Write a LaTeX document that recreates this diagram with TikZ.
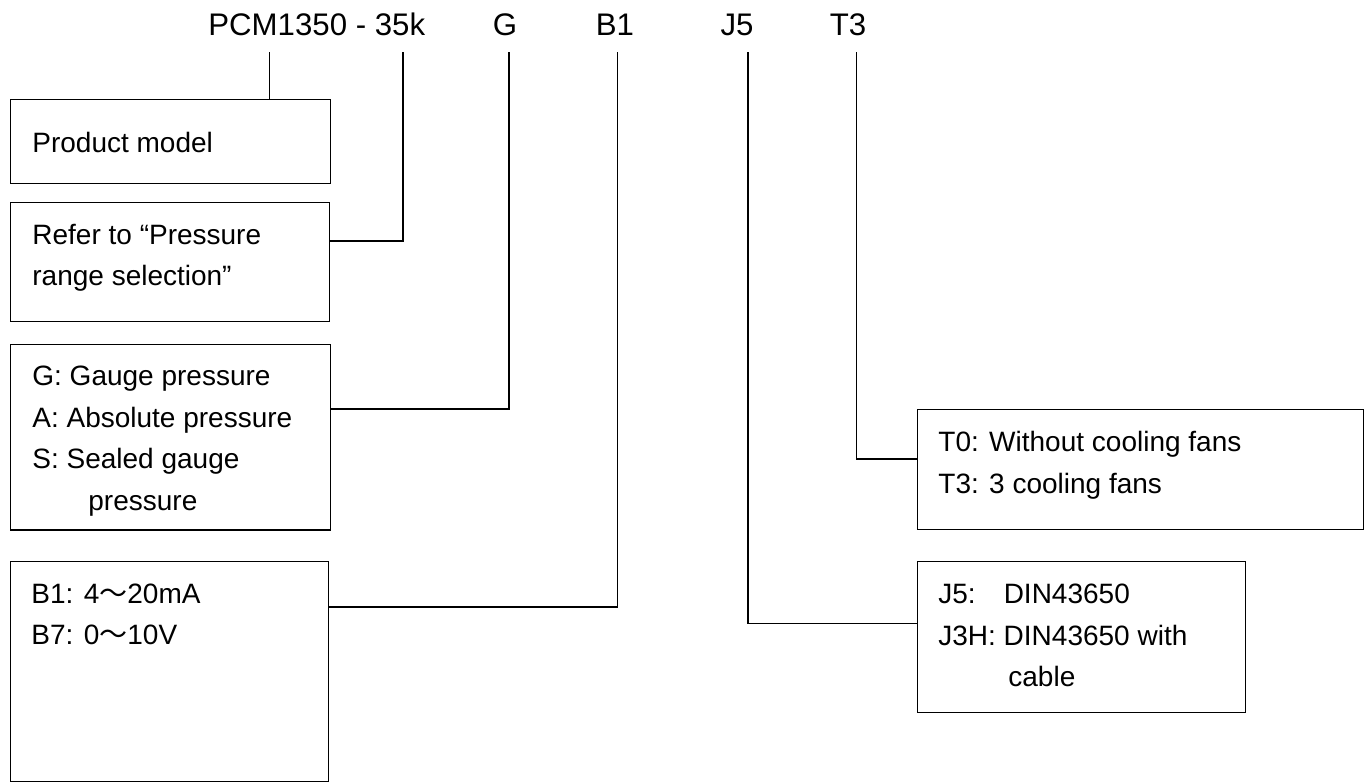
\documentclass[tikz,border=0pt]{standalone}
\usepackage{fontspec}
\setmainfont{Liberation Sans}
\newfontfamily\cjk{Noto Sans CJK SC}
\begin{document}
\begin{tikzpicture}
[boxdecorate/.style={draw,line width=0.65pt,rectangle,inner sep=0pt,anchor=north west},%
  linedecorate/.style={-,line width=0.65pt},%
  textdecorate/.style={anchor=base west,inner sep=0pt,font=\fontsize{14}{17}\selectfont},%
  codedecorate/.style={anchor=base,inner sep=0pt,font=\fontsize{15.6}{18}\selectfont},%
  x=0.5pt,y=-0.5pt]
\useasboundingbox (0,0) rectangle (1370,783);
%% code letters on top
\node (pcm) at (208,35) [codedecorate,anchor=base west] {PCM1350 - 35k};
\foreach \nodename/\x/\code in {g/505/G, b/615/B1, j/737/J5, t/848/T3} {
  \node (\nodename) at (\x,35) [codedecorate] {\code};
}
%% boxes (width and height in pt)
\foreach \nodename/\x/\y/\w/\h in {prod/10/99/160/42, refer/10/202/159.5/59.5,
  gauge/10/344/160/92.7, signal/10/561/159/110, fans/917/409/223/60,
  plug/917/561/164/75.5} {
  \node (\nodename) at (\x,\y) [boxdecorate,minimum width=\w pt,minimum height=\h pt] {};
}
%% texts in the boxes
\foreach \nodename/\x/\y/\txt in {prodA/32/152/Product model,
  referA/32/244/Refer to “Pressure, referB/32/285/range selection”,
  gaugeA/32/385/G: Gauge pressure, gaugeB/32/427/A: Absolute pressure,
  gaugeC/32/468/S: Sealed gauge, gaugeD/88/510/pressure,
  signalA/31/603/B1: 4{\cjk ～}20mA, signalB/31/644/B7: 0{\cjk ～}10V,
  fansA/938/451/T0: Without cooling fans, fansB/938/493/T3: 3 cooling fans,
  plugA/938/603/\rlap{J5:}\phantom{J3H: }DIN43650,
  plugB/938/645/J3H: DIN43650 with, plugC/1008/686/cable} {
  \node (\nodename) at (\x,\y) [textdecorate] {\txt};
}
%% edges or lines
\coordinate (pcmtop) at (269.5,52);
\draw[linedecorate] (pcmtop) -- (pcmtop |- prod.north);
\foreach \topname/\boxname/\side/\x/\y in {ktop/refer/east/403/241,
  gtop/gauge/east/509/409, btop/signal/east/617.7/607,
  jtop/plug/west/748/623.3, ttop/fans/west/856.7/459} {
  \coordinate (\topname) at (\x,52);
  \coordinate (\topname c) at (\x,\y);
  \draw[linedecorate] (\topname) -- (\topname c) -- (\topname c -| \boxname.\side);
}
\end{tikzpicture}
\end{document}
